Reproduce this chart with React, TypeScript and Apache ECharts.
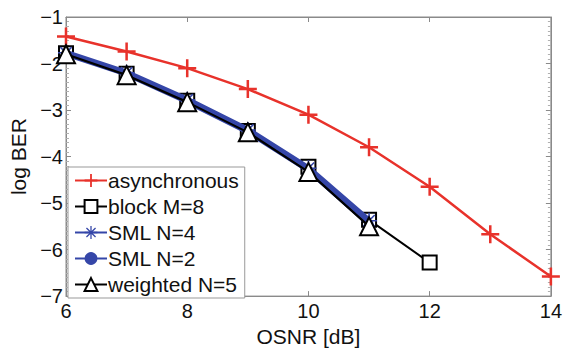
import React, { useEffect, useRef } from "react";
import * as echarts from "echarts";

const asyncX = [6, 7, 8, 9, 10, 11, 12, 13, 14];
const asyncY = [-1.42, -1.74, -2.1, -2.55, -3.1, -3.8, -4.65, -5.67, -6.58];
const blockX = [6, 7, 8, 9, 10, 11, 12];
const blockY = [-1.78, -2.22, -2.8, -3.45, -4.22, -5.36, -6.28];
const smlX = [6, 7, 8, 9, 10, 11];
const sml4Y = [-1.77, -2.2, -2.78, -3.43, -4.25, -5.38];
const sml2Y = [-1.8, -2.23, -2.82, -3.47, -4.3, -5.45];
const weightedY = [-1.8, -2.25, -2.83, -3.48, -4.33, -5.5];
const seriesNames = ["asynchronous", "block M=8", "SML N=4", "SML N=2", "weighted N=5"];

const zip = (xs: number[], ys: number[]) => xs.map((x, i) => [x, ys[i]]);

const PLUS = "path://M0,8.6H20V11.4H0Z M8.6,0H11.4V20H8.6Z";
const STAR =
  "path://M0,9H20V11H0Z M9,0H11V20H9Z M3.6,2.2L17.8,16.4L16.4,17.8L2.2,3.6Z M16.4,2.2L17.8,3.6L3.6,17.8L2.2,16.4Z";

const FONT = "'Liberation Sans', Arial, Helvetica, sans-serif";
const RED = "#e8322b";
const BLUE = "#3546a8";

export default function App() {
  const ref = useRef<HTMLDivElement>(null);
  useEffect(() => {
    if (!ref.current) return;
    const chart = echarts.init(ref.current, null, { renderer: "svg" });
    const minus = (v: number) => String(v).replace("-", "\u2212");
    const axisCommon = {
      axisLine: { show: true, lineStyle: { color: "#8a8a8a", width: 1 } },
      axisTick: { show: true, inside: true, length: 5, lineStyle: { color: "#8a8a8a" } },
      splitLine: { show: false },
    };
    chart.setOption({
      animation: false,
      backgroundColor: "#ffffff",
      grid: {
        left: 63,
        right: 12,
        top: 17,
        bottom: 50,
        show: true,
        borderColor: "#8a8a8a",
        borderWidth: 1,
        backgroundColor: "#ffffff",
      },
      legend: {
        data: seriesNames,
        orient: "vertical",
        left: 68,
        top: 167,
        padding: [3, 6, 3, 6],
        itemWidth: 32,
        itemHeight: 16,
        itemGap: 5,
        backgroundColor: "#ffffff",
        borderColor: "#999999",
        borderWidth: 1,
        textStyle: { fontFamily: FONT, fontSize: 21, color: "#111", lineHeight: 21, padding: [0, 0, 0, -4] },
      },
      xAxis: [
        {
          type: "value",
          min: 6,
          max: 14,
          interval: 2,
          name: "OSNR [dB]",
          nameLocation: "middle",
          nameGap: 25,
          nameTextStyle: { fontFamily: FONT, fontSize: 21, color: "#111" },
          axisLabel: { fontFamily: FONT, fontSize: 20, color: "#111", margin: 5 },
          ...axisCommon,
        },
        {
          type: "value",
          position: "top",
          min: 6,
          max: 14,
          interval: 2,
          axisLabel: { show: false },
          ...axisCommon,
        },
      ],
      yAxis: [
        {
          type: "value",
          min: -7,
          max: -1,
          interval: 1,
          name: "log BER",
          nameLocation: "middle",
          nameGap: 37,
          nameTextStyle: { fontFamily: FONT, fontSize: 21, color: "#111" },
          axisLabel: { fontFamily: FONT, fontSize: 20, color: "#111", margin: 3, formatter: minus },
          minorTick: { show: true, splitNumber: 10, length: 3, lineStyle: { color: "#b0b0b0" } },
          ...axisCommon,
        },
        {
          type: "value",
          position: "right",
          min: -7,
          max: -1,
          interval: 1,
          axisLabel: { show: false },
          minorTick: { show: true, splitNumber: 10, length: 3, lineStyle: { color: "#b0b0b0" } },
          ...axisCommon,
        },
      ],
      series: [
        {
          name: seriesNames[0],
          type: "line",
          data: zip(asyncX, asyncY),
          symbol: PLUS,
          symbolSize: 18,
          lineStyle: { color: RED, width: 2.5 },
          itemStyle: { color: RED },
          z: 2,
        },
        {
          name: seriesNames[1],
          type: "line",
          data: zip(blockX, blockY),
          symbol: "emptyRect",
          symbolSize: 14,
          lineStyle: { color: "#000", width: 2 },
          itemStyle: { color: "#000", borderWidth: 2.5 },
          z: 3,
        },
        {
          name: seriesNames[2],
          type: "line",
          data: zip(smlX, sml4Y),
          symbol: STAR,
          symbolSize: 16,
          lineStyle: { color: BLUE, width: 6 },
          itemStyle: { color: BLUE },
          z: 4,
        },
        {
          name: seriesNames[3],
          type: "line",
          data: zip(smlX, sml2Y),
          symbol: "circle",
          symbolSize: 9,
          lineStyle: { color: BLUE, width: 5 },
          itemStyle: { color: BLUE },
          z: 5,
        },
        {
          name: seriesNames[4],
          type: "line",
          data: zip(smlX, weightedY),
          symbol: "emptyTriangle",
          symbolSize: 18,
          lineStyle: { color: "#000", width: 2.2 },
          itemStyle: { color: "#000", borderWidth: 2.5 },
          z: 6,
        },
      ],
    });
    return () => chart.dispose();
  }, []);
  return (
    <div
      ref={ref}
      style={{ position: "absolute", left: 0, top: 0, width: 565, height: 352 }}
    />
  );
}
